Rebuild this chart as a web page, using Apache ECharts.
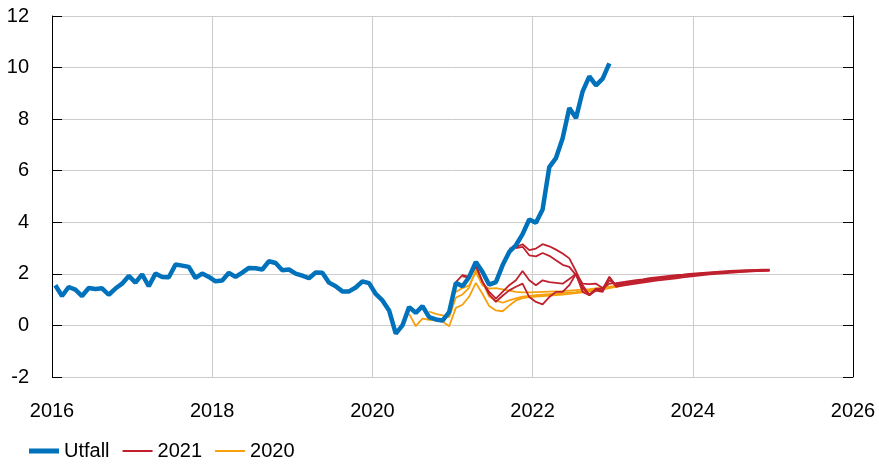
<!DOCTYPE html>
<html>
<head>
<meta charset="utf-8">
<script src="https://cdn.jsdelivr.net/npm/echarts@6/dist/echarts.min.js"></script>
<style>
html,body{margin:0;padding:0;background:#fff;}
#chart{width:879px;height:465px;}
</style>
</head>
<body>
<div id="chart"></div>
<script>
// ---- Data ----
var xTicks = [2016, 2018, 2020, 2022, 2024, 2026];
var yTicks = [-2, 0, 2, 4, 6, 8, 10, 12];

var utfallStart = '2016-01';
var utfall = [
  1.56, 1.14, 1.49, 1.39, 1.14, 1.45, 1.41, 1.44, 1.19, 1.43, 1.62, 1.92,
  1.66, 1.98, 1.52, 2.01, 1.88, 1.87, 2.36, 2.32, 2.27, 1.84, 2.01, 1.88,
  1.71, 1.74, 2.04, 1.88, 2.05, 2.23, 2.22, 2.17, 2.49, 2.42, 2.14, 2.17,
  2.01, 1.93, 1.83, 2.05, 2.04, 1.66, 1.52, 1.32, 1.32, 1.47, 1.71, 1.64,
  1.22, 0.97, 0.58, -0.32, 0.00, 0.71, 0.49, 0.75, 0.32, 0.23, 0.19, 0.52,
  1.65, 1.52, 1.88, 2.46, 2.07, 1.58, 1.68, 2.33, 2.85, 3.11, 3.54, 4.11,
  3.98, 4.50, 6.14, 6.49, 7.26, 8.43, 8.04, 9.08, 9.66, 9.31, 9.57, 10.16
];

// 2021 forecast vintages
var r1Start = '2021-01';
var r1 = [
  1.68, 1.95, 1.88, 2.33, 1.68, 1.30, 1.04, 1.30, 1.56, 1.75, 2.11, 1.75,
  1.56, 1.75, 1.68, 1.65, 1.62, 1.80, 2.00, 1.62, 1.60, 1.62, 1.45, 1.62,
  1.64, 1.68, 1.72, 1.76, 1.79, 1.83, 1.86, 1.89, 1.92, 1.95, 1.97, 2.00,
  2.02, 2.04, 2.06, 2.08, 2.10, 2.11, 2.12, 2.13, 2.14, 2.15, 2.16, 2.16
];
var r2Start = '2021-02';
var r2 = [
  1.90, 1.85, 2.30, 1.70, 1.20, 0.91, 1.15, 1.36, 1.50, 1.62, 1.10,
  0.91, 0.82, 1.10, 1.30, 1.30, 1.56, 2.00, 1.30, 1.17, 1.35, 1.30, 1.88,
  1.50, 1.54, 1.58, 1.62, 1.66, 1.70, 1.74, 1.77, 1.80, 1.83, 1.86, 1.89,
  1.92, 1.95, 1.98, 2.00, 2.02, 2.04, 2.06, 2.08, 2.10, 2.11, 2.12, 2.13
];
var r3Start = '2021-09';
var r3 = [
  2.98, 3.03, 3.15, 2.92,
  2.98, 3.15, 3.07, 2.94, 2.79, 2.60, 2.10, 1.56, 1.17, 1.43, 1.42, 1.88,
  1.55, 1.59, 1.63, 1.67, 1.71, 1.75, 1.79, 1.82, 1.85, 1.88, 1.91, 1.94,
  1.97, 1.99, 2.01, 2.03, 2.05, 2.07, 2.08, 2.09, 2.10, 2.11, 2.12, 2.13
];
var r4Start = '2021-10';
var r4 = [
  3.00, 3.05, 2.72,
  2.68, 2.81, 2.70, 2.53, 2.35, 2.27, 1.95, 1.45, 1.20, 1.40, 1.35, 1.75,
  1.59, 1.63, 1.67, 1.71, 1.75, 1.79, 1.82, 1.86, 1.89, 1.92, 1.95, 1.98,
  2.00, 2.02, 2.04, 2.06, 2.08, 2.09, 2.11, 2.12, 2.13, 2.14, 2.15, 2.15
];

// 2020 forecast vintages
var o1Start = '2020-06';
var o1 = [
  0.45, -0.03, 0.26, 0.22, 0.20, 0.15, -0.03,
  0.68, 0.80, 1.12, 1.65, 1.22, 0.75, 0.58, 0.55, 0.77, 0.97, 1.06, 1.10,
  1.12, 1.14, 1.16, 1.18, 1.20, 1.22, 1.25, 1.28, 1.32, 1.36, 1.40, 1.45,
  1.50, 1.55
];
var o2Start = '2020-09';
var o2 = [
  0.54, 0.45, 0.39, 0.32,
  1.08, 1.20, 1.47, 2.17, 1.68, 1.12, 0.97, 0.88, 0.97, 1.05, 1.12, 1.15,
  1.17, 1.19, 1.21, 1.23, 1.25, 1.27, 1.29, 1.32, 1.35, 1.39, 1.43, 1.47,
  1.52, 1.56
];
var o3Start = '2021-01';
var o3 = [
  1.30, 1.45, 1.55, 2.07, 1.55, 1.43, 1.45, 1.40, 1.35, 1.30, 1.28, 1.28,
  1.29, 1.30, 1.31, 1.32, 1.33, 1.35, 1.37, 1.39, 1.41, 1.44, 1.47, 1.50,
  1.53, 1.57
];

// ---- Build ----
function toX(start, i) {
  var p = start.split('-').map(Number);
  return p[0] + (p[1] - 1 + i + 0.5) / 12;
}
function build(start, vals) {
  return vals.map(function (v, i) { return [toX(start, i), v]; });
}

var BLUE = '#0071bb', RED = '#c0202e', ORANGE = '#f5a00c';
var FONT = 'Liberation Sans';

function line(name, color, width, start, vals) {
  return {
    type: 'line', name: name, data: build(start, vals),
    symbol: 'none', showSymbol: false, smooth: false,
    lineStyle: { color: color, width: width },
    itemStyle: { color: color },
    emphasis: { disabled: true }
  };
}

var series = [
  line('2020', ORANGE, 1.8, o1Start, o1),
  line('2020', ORANGE, 1.8, o2Start, o2),
  line('2020', ORANGE, 1.8, o3Start, o3),
  line('2021', RED, 1.8, r1Start, r1),
  line('2021', RED, 1.8, r2Start, r2),
  line('2021', RED, 1.8, r3Start, r3),
  line('2021', RED, 1.8, r4Start, r4),
  line('Utfall', BLUE, 4.5, utfallStart, utfall)
];

var chart = echarts.init(document.getElementById('chart'), null, { renderer: 'canvas' });
chart.setOption({
  animation: false,
  backgroundColor: '#fff',
  grid: { left: 52, right: 26, top: 16, bottom: 88, containLabel: false },
  legend: {
    data: [
      { name: 'Utfall', icon: 'path://M0,0H30V5H0Z' },
      { name: '2021', icon: 'path://M0,0H30V2H0Z' },
      { name: '2020', icon: 'path://M0,0H30V2H0Z' }
    ],
    left: 29, top: 441, padding: 0,
    itemWidth: 30, itemHeight: 14, itemGap: 13,
    symbolKeepAspect: true,
    itemStyle: { borderWidth: 0 },
    textStyle: { fontFamily: FONT, fontSize: 20, color: '#000' }
  },
  xAxis: {
    type: 'value',
    min: xTicks[0], max: xTicks[xTicks.length - 1], interval: 2,
    axisLine: { show: false },
    axisTick: { show: false },
    splitLine: { show: true, lineStyle: { color: '#cccccc', width: 1 } },
    axisLabel: { fontFamily: FONT, fontSize: 20, color: '#000', margin: 24,
      formatter: function (v) { return String(Math.round(v)); } }
  },
  yAxis: [{
    type: 'value',
    min: yTicks[0], max: yTicks[yTicks.length - 1], interval: 2,
    axisLine: { show: true, lineStyle: { color: '#000', width: 1 } },
    axisTick: { show: true, inside: true, length: 10, lineStyle: { color: '#000' } },
    splitLine: { show: true, lineStyle: { color: '#cccccc', width: 1 } },
    axisLabel: { fontFamily: FONT, fontSize: 20, color: '#000', margin: 23 }
  }, {
    type: 'value', position: 'right',
    min: yTicks[0], max: yTicks[yTicks.length - 1], interval: 2,
    axisLine: { show: true, lineStyle: { color: '#000', width: 1 } },
    axisTick: { show: true, inside: true, length: 10, lineStyle: { color: '#000' } },
    splitLine: { show: false },
    axisLabel: { show: false }
  }],
  series: series
});
</script>
</body>
</html>
